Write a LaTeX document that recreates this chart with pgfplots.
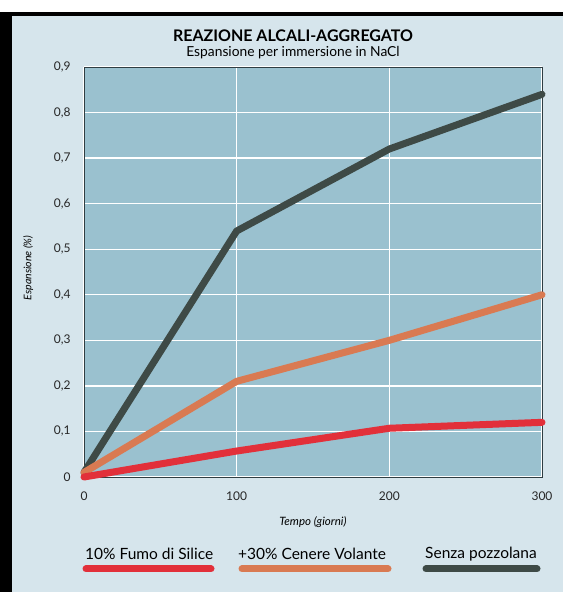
\documentclass[border=0pt]{standalone}
\usepackage{pgfplots}
\pgfplotsset{compat=1.18}
\usepackage{fontspec}
\setmainfont{Lato}
\definecolor{bgblue}{HTML}{D6E5EC}
\definecolor{plotblue}{HTML}{9AC1CF}
\definecolor{boxline}{HTML}{2F3D42}
\definecolor{darkline}{HTML}{3E4A46}
\definecolor{orangeline}{HTML}{D97A52}
\definecolor{redline}{HTML}{E2303A}
\begin{document}
\begin{tikzpicture}[x=1pt,y=1pt]
\useasboundingbox (0,0) rectangle (563,592);
% frame of the scanned page
\fill[bgblue] (0,0) rectangle (563,580);
\fill[black] (0,0) rectangle (12,580);
\fill[black] (0,576) rectangle (563,580);

\node[font=\fontsize{16}{18}\selectfont\bfseries] at (293,556) {REAZIONE ALCALI-AGGREGATO};
\node[font=\fontsize{13.8}{16}\selectfont] at (293,539) {Espansione per immersione in NaCl};

\begin{axis}[
    at={(84pt,115pt)}, anchor=origin,
    scale only axis,
    width=458pt, height=410pt,
    xmin=0, xmax=300,
    ymin=0, ymax=0.9,
    xtick={0,100,200,300},
    ytick={0,0.1,0.2,0.3,0.4,0.5,0.6,0.7,0.8,0.9},
    axis background/.style={fill=plotblue},
    axis line style={boxline, line width=0.9pt},
    grid=major,
    major grid style={white, line width=1.3pt},
    tick style={draw=none},
    /pgf/number format/assume math mode=true,
    /pgf/number format/fixed,
    /pgf/number format/precision=1,
    /pgf/number format/use comma,
    ticklabel style={font=\fontsize{12}{14}\selectfont, text=black!85},
    yticklabel style={xshift=-10pt},
    xticklabel style={yshift=-11pt},
    xlabel={Tempo (giorni)},
    ylabel={Espansione (\%)},
    xlabel style={font=\fontsize{11.5}{13}\selectfont\itshape, at={(axis description cs:0.5,-0.11)}, anchor=center},
    ylabel style={font=\fontsize{10.5}{12}\selectfont\itshape, at={(axis description cs:-0.122,0.51)}, anchor=center},
    clip=false,
    every axis plot/.append style={line width=7pt, line cap=round, line join=round},
]
\addplot[darkline] coordinates {(0,0.01) (100,0.54) (200,0.72) (300,0.84)};
\addplot[orangeline] coordinates {(0,0.01) (100,0.21) (200,0.30) (300,0.40)};
\addplot[redline] coordinates {(0,0.0) (100,0.057) (200,0.107) (300,0.12)};
\end{axis}

% legend: text above a thick bar
\begin{scope}[font=\fontsize{15.5}{18}\selectfont]
\node[anchor=west, inner sep=0] at (85,38) {10\% Fumo di Silice};
\node[anchor=west, inner sep=0] at (238,38) {+30\% Cenere Volante};
\node[anchor=west, inner sep=0] at (425,38) {Senza pozzolana};
\draw[redline, line width=7pt, line cap=round] (86,23) -- (211,23);
\draw[orangeline, line width=7pt, line cap=round] (242,23) -- (388,23);
\draw[darkline, line width=7pt, line cap=round] (426,23) -- (537,23);
\end{scope}
\end{tikzpicture}
\end{document}
